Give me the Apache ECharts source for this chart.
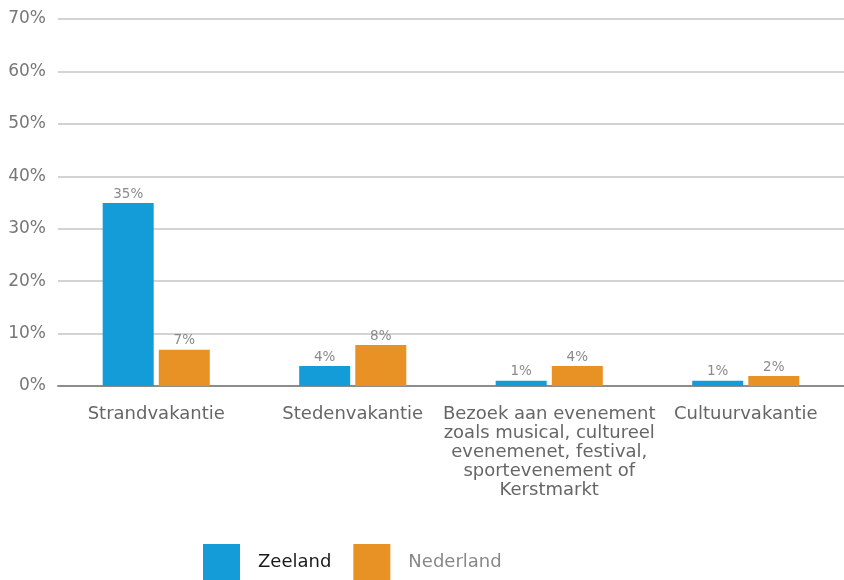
<!DOCTYPE html>
<html><head><meta charset="utf-8">
<script src="https://cdn.jsdelivr.net/npm/echarts@6/dist/echarts.min.js"></script>
<style>html,body{margin:0;padding:0;background:#fff}#c{width:844px;height:580px}</style>
</head><body><div id="c"></div>
<script>
var categories = ['Strandvakantie', 'Stedenvakantie', 'Bezoek aan evenement\nzoals musical, cultureel\nevenemenet, festival,\nsportevenement of\nKerstmarkt', 'Cultuurvakantie'];
var seriesNames = ['Zeeland', 'Nederland'];
var zeeland = [34.9, 3.8, 1.0, 1.0];
var nederland = [6.9, 7.8, 3.8, 1.9];
var yTicks = [0, 10, 20, 30, 40, 50, 60, 70];

var FONT = '"DejaVu Sans"';
var chart = echarts.init(document.getElementById('c'), null, {renderer: 'canvas'});
function lbl() {
  return {show: true, position: 'top', distance: 2, color: '#8a8a8a', fontSize: 13.5, fontFamily: FONT,
    formatter: function (p) { return Math.round(p.value) + '%'; }};
}
chart.setOption({
  animation: false,
  grid: {left: 58, right: -3, top: 19, bottom: 194, containLabel: false},
  legend: {
    top: 539, left: 198, itemWidth: 37, itemHeight: 36, itemGap: 22,
    icon: 'rect',
    data: [
      {name: seriesNames[0], textStyle: {color: '#1a1a1a'}},
      {name: seriesNames[1], textStyle: {color: '#888'}}
    ],
    textStyle: {fontSize: 18, fontFamily: FONT, padding: [0, 0, 0, 13]}
  },
  xAxis: {
    type: 'category', data: categories,
    axisLine: {lineStyle: {color: '#8c8c8c', width: 2}},
    axisTick: {show: false},
    axisLabel: {interval: 0, color: '#666', fontSize: 18, fontFamily: FONT, lineHeight: 19, margin: 19}
  },
  yAxis: {
    type: 'value', min: yTicks[0], max: yTicks[yTicks.length - 1], interval: 10,
    axisLine: {show: false}, axisTick: {show: false},
    splitLine: {lineStyle: {color: '#c4c4c4', width: 1.5}},
    axisLabel: {color: '#777', fontSize: 17, fontFamily: FONT, margin: 12, formatter: '{value}%'}
  },
  series: [
    {name: seriesNames[0], type: 'bar', data: zeeland, barWidth: 51, barGap: '10%', itemStyle: {color: '#139CD8'}, label: lbl()},
    {name: seriesNames[1], type: 'bar', data: nederland, barWidth: 51, itemStyle: {color: '#E89125'}, label: lbl()}
  ]
});
</script></body></html>
